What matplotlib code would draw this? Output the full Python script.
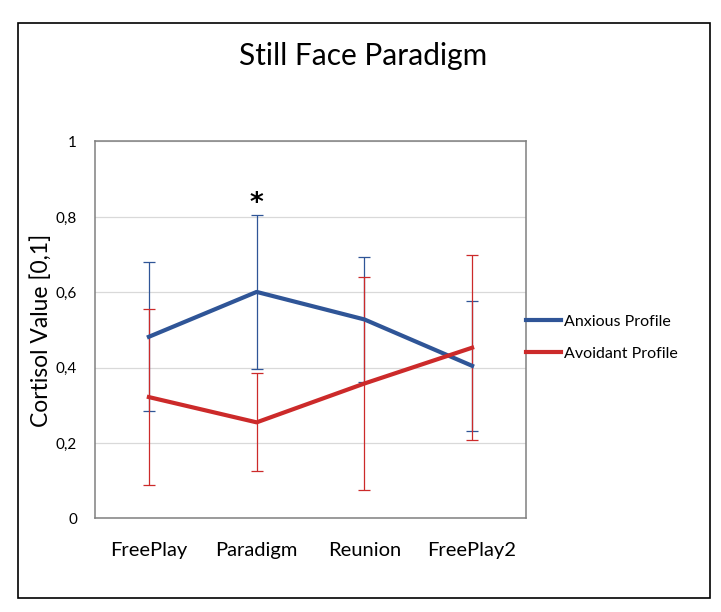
import matplotlib
matplotlib.use('Agg')
import matplotlib.pyplot as plt
from matplotlib.patches import Rectangle
import numpy as np

plt.rcParams['font.family'] = ['Lato', 'DejaVu Sans']

# data
phases = ['FreePlay', 'Paradigm', 'Reunion', 'FreePlay2']
anxious = [0.482, 0.601, 0.528, 0.405]
anxious_err = [0.198, 0.205, 0.165, 0.172]
avoidant = [0.322, 0.255, 0.358, 0.453]
avoidant_err = [0.233, 0.130, 0.283, 0.245]
yticks = [0, 0.2, 0.4, 0.6, 0.8, 1]
star_pos = (1, 0.835)   # significance marker above Paradigm

blue = '#2f5597'
red = '#cc2a2a'

fig = plt.figure(figsize=(7.21, 6.12), dpi=100)
ax = fig.add_axes([0.1318, 0.1528, 0.5977, 0.616])
x = np.arange(len(phases))

ax.errorbar(x, anxious, yerr=anxious_err, color=blue, lw=3, capsize=4,
            elinewidth=0.9, capthick=0.9, label='Anxious Profile', zorder=3)
ax.errorbar(x, avoidant, yerr=avoidant_err, color=red, lw=3, capsize=4,
            elinewidth=0.9, capthick=0.9, label='Avoidant Profile', zorder=3)

ax.text(star_pos[0], star_pos[1], '*', ha='center', va='center', fontsize=19,
        fontweight='bold', family='DejaVu Sans')

ax.set_xlim(-0.5, 3.5)
ax.set_ylim(0, 1)
ax.set_xticks(x)
ax.set_xticklabels(phases, fontsize=14.5)
ax.set_yticks(yticks)
ax.set_yticklabels([('%g' % v).replace('.', ',') for v in yticks], fontsize=11)
ax.tick_params(length=0)
ax.tick_params(axis='x', pad=17)
ax.tick_params(axis='y', pad=13)
ax.grid(axis='y', color='#d9d9d9', lw=0.9)
ax.set_axisbelow(True)
for s in ax.spines.values():
    s.set_color('#808080')
    s.set_linewidth(1.1)

ax.set_ylabel('Cortisol Value [0,1]', fontsize=16.5, labelpad=3)
fig.text(0.503, 0.908, 'Still Face Paradigm', ha='center', va='center', fontsize=21.5)

handles, labels = ax.get_legend_handles_labels()
handles = [h[0] for h in handles]
ax.legend(handles, labels, loc='center left', bbox_to_anchor=(1.0, 0.48),
          frameon=False, fontsize=11.5, borderaxespad=0, borderpad=0,
          handlelength=2.2, handletextpad=0.15, labelspacing=1.12)

fig.add_artist(Rectangle((0.025, 0.0229), 0.9598, 0.9395, transform=fig.transFigure,
                         fill=False, edgecolor='black', lw=1.2))

plt.savefig('out.png', dpi=100)
